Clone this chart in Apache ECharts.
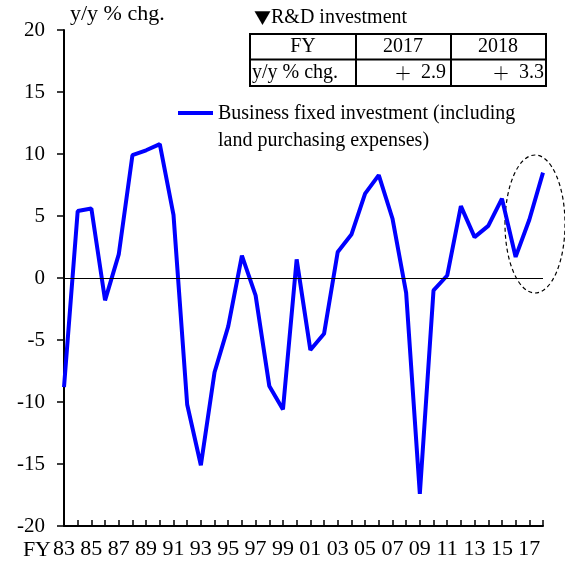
<!DOCTYPE html>
<html>
<head>
<meta charset="utf-8">
<script src="https://cdn.jsdelivr.net/npm/echarts@6/dist/echarts.min.js"></script>
<style>
  html, body { margin: 0; padding: 0; background: #fff; }
  #main { width: 565px; height: 565px; }
</style>
</head>
<body>
<div id="main"></div>
<script>
// fiscal years FY83 .. FY18
var years = ['83','84','85','86','87','88','89','90','91','92','93','94','95','96','97','98','99','00',
             '01','02','03','04','05','06','07','08','09','10','11','12','13','14','15','16','17','18'];
// business fixed investment, y/y % chg.
var investment = [-8.8, 5.4, 5.6, -1.8, 1.9, 9.9, 10.3, 10.8, 5.1, -10.2, -15.1, -7.6, -3.9, 1.8, -1.4, -8.7,
                  -10.6, 1.5, -5.8, -4.5, 2.1, 3.5, 6.8, 8.3, 4.8, -1.2, -17.4, -1.0, 0.2, 5.8, 3.3, 4.2,
                  6.4, 1.7, 4.7, 8.5];
var rdYears = ['2017', '2018'];
var rdValues = ['2.9', '3.3'];

var font = 'Liberation Serif, Times New Roman, serif';
var cjk = 'Noto Sans CJK JP';
var chart = echarts.init(document.getElementById('main'));

function plusCell(v, x) {
  return {
    type: 'text', x: x, y: 73,
    style: {
      text: '{p|＋}{s| }' + v, font: '20px ' + font, fill: '#000', align: 'right', verticalAlign: 'middle',
      rich: {
        p: { fontFamily: cjk, fontSize: 18, fontWeight: 300, fill: '#000' },
        s: { width: 9 }
      }
    }
  };
}

var option = {
  animation: false,
  grid: { left: 64, right: 22, top: 30, bottom: 39 },
  xAxis: {
    type: 'category',
    data: years,
    boundaryGap: false,
    axisLine: { onZero: false, lineStyle: { color: '#000', width: 2 } },
    axisTick: { inside: true, length: 6, interval: 0, lineStyle: { color: '#000', width: 1.5 } },
    axisLabel: { interval: 1, color: '#000', fontFamily: font, fontSize: 22, margin: 12 },
    splitLine: { show: false }
  },
  yAxis: {
    type: 'value',
    min: -20, max: 20, interval: 5,
    axisLine: { show: true, lineStyle: { color: '#000', width: 2 } },
    axisTick: { show: true, length: 7, lineStyle: { color: '#000', width: 1.5 } },
    axisLabel: { color: '#000', fontFamily: font, fontSize: 21, margin: 19 },
    splitLine: { show: false }
  },
  series: [{
    name: 'Business fixed investment',
    type: 'line',
    data: investment,
    symbol: 'none',
    lineStyle: { color: '#0000ff', width: 4 },
    markLine: {
      silent: true,
      symbol: 'none',
      label: { show: false },
      lineStyle: { color: '#000', width: 1, type: 'solid' },
      data: [{ yAxis: 0 }]
    }
  }],
  graphic: [
    { type: 'text', left: 70, top: 3, style: { text: 'y/y % chg.', font: '22px ' + font, fill: '#000' } },
    { type: 'text', x: 51, y: 550, style: { text: 'FY', font: '22px ' + font, fill: '#000', align: 'right', verticalAlign: 'middle' } },
    // R&D table
    { type: 'text', left: 254, top: 8, style: {
        text: '{t|▼}R&D investment', font: '20px ' + font, fill: '#000',
        rich: { t: { fontFamily: cjk, fontSize: 17, fill: '#000' } } } },
    { type: 'rect', shape: { x: 250, y: 34, width: 296, height: 52 }, style: { fill: 'none', stroke: '#000', lineWidth: 2 } },
    { type: 'line', shape: { x1: 250, y1: 59.5, x2: 546, y2: 59.5 }, style: { stroke: '#000', lineWidth: 2 } },
    { type: 'line', shape: { x1: 356, y1: 34, x2: 356, y2: 86 }, style: { stroke: '#000', lineWidth: 2 } },
    { type: 'line', shape: { x1: 451, y1: 34, x2: 451, y2: 86 }, style: { stroke: '#000', lineWidth: 2 } },
    { type: 'text', x: 303, y: 47, style: { text: 'FY', font: '20px ' + font, fill: '#000', align: 'center', verticalAlign: 'middle' } },
    { type: 'text', x: 403, y: 47, style: { text: rdYears[0], font: '20px ' + font, fill: '#000', align: 'center', verticalAlign: 'middle' } },
    { type: 'text', x: 498, y: 47, style: { text: rdYears[1], font: '20px ' + font, fill: '#000', align: 'center', verticalAlign: 'middle' } },
    { type: 'text', x: 252, y: 73, style: { text: 'y/y % chg.', font: '20px ' + font, fill: '#000', align: 'left', verticalAlign: 'middle' } },
    plusCell(rdValues[0], 446),
    plusCell(rdValues[1], 544),
    // legend
    { type: 'line', shape: { x1: 178, y1: 113, x2: 213, y2: 113 }, style: { stroke: '#0000ff', lineWidth: 4 } },
    { type: 'text', left: 218, top: 100, style: { text: 'Business fixed investment (including\nland purchasing expenses)', font: '20px ' + font, fill: '#000', lineHeight: 27 } },
    // dashed circle around the latest years
    { type: 'ellipse', shape: { cx: 535, cy: 224, rx: 30, ry: 69 }, style: { fill: 'none', stroke: '#000', lineWidth: 1.2, lineDash: [4, 3] } }
  ]
};
chart.setOption(option);
</script>
</body>
</html>
